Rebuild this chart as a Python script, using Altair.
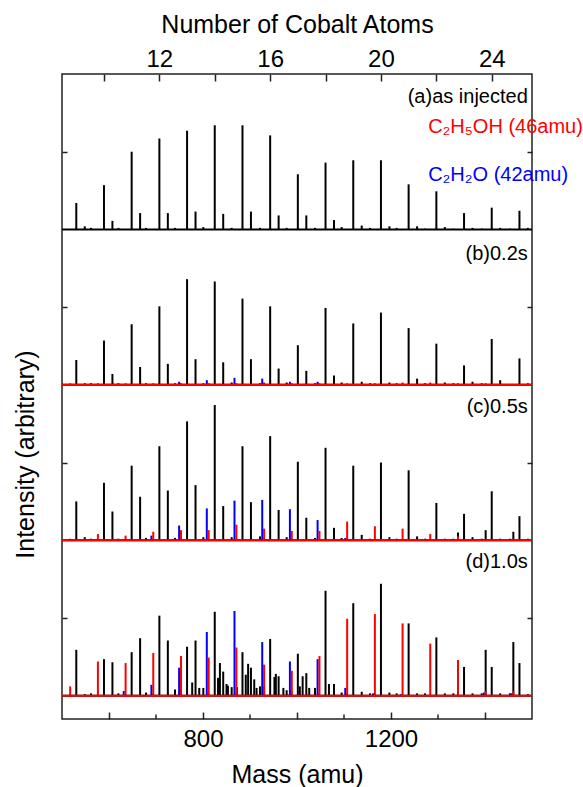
import altair as alt
import pandas as pd

# ---------------- data ----------------
cluster_n = [8, 9, 10, 11, 12, 13, 14, 15, 16, 17, 18, 19, 20, 21, 22, 23, 24, 25]
cluster_mass = [471.4, 530.4, 589.3, 648.2, 707.2, 766.1, 825.0, 884.0, 942.9,
                1001.8, 1060.7, 1119.7, 1178.6, 1237.5, 1296.5, 1355.4, 1414.3, 1473.3]
SAT_SHIFT = 18      # small satellite peak after each cluster
EXTRA_SHIFT = 46    # black peaks sitting at the +46 position
BLUE_SHIFT = 42     # C2H2O
RED_SHIFT = 46      # C2H5OH

panel_names = ["a", "b", "c", "d"]
panel_base = [6, 4, 2, 0]
panel_labels = ["(a)as injected", "(b)0.2s", "(c)0.5s", "(d)1.0s"]
panel_label_y = [7.71, 5.69, 3.72, 1.72]

main_h = {
    "a": [0, 0.34, 0.57, 1.00, 1.17, 1.27, 1.34, 1.34, 1.21, 0.71, 0.86, 0.89, 0.89, 0.58, 0.49, 0.21, 0.28, 0.24],
    "b": [0, 0.32, 0.57, 0.78, 1.01, 1.36, 1.33, 1.11, 1.01, 0.51, 0.99, 0.79, 0.93, 0.73, 0.53, 0.25, 0.59, 0.34],
    "c": [0, 0.50, 0.74, 0.96, 1.21, 1.53, 1.74, 1.21, 1.34, 1.01, 1.19, 0.96, 1.00, 0.90, 0.48, 0.34, 0.63, 0.31],
    "d": [0, 0.59, 0.47, 0.56, 1.03, 0.63, 1.08, 0.56, 0.73, 0.54, 1.35, 1.19, 1.44, 0.93, 0.75, 0.37, 0.37, 0.42],
}
sat_h = {
    "a": [0, 0.04, 0.11, 0.21, 0.21, 0.23, 0.20, 0.23, 0.18, 0.18, 0.12, 0.05, 0.04, 0.04, 0.03, 0.02, 0.02, 0.02],
    "b": [0, 0.02, 0.14, 0.23, 0.27, 0.33, 0.29, 0.33, 0.21, 0.18, 0.12, 0.04, 0.03, 0.08, 0.03, 0.04, 0.06, 0.02],
    "c": [0, 0.04, 0.37, 0.56, 0.64, 0.71, 0.44, 0.49, 0.39, 0.29, 0.16, 0.07, 0.04, 0.05, 0.02, 0.04, 0.02, 0.02],
    "d": [0, 0.02, 0.43, 0.74, 0.71, 0.71, 0.31, 0.36, 0.25, 0.29, 0.15, 0.05, 0.04, 0.03, 0.03, 0.03, 0.03, 0.02],
}
extra_h = {
    "a": [0] * 18,
    "b": [0] * 18,
    "c": [0, 0, 0, 0, 0, 0, 0, 0, 0, 0, 0, 0, 0, 0, 0.10, 0.13, 0.11, 0],
    "d": [0, 0, 0, 0, 0, 0, 0, 0, 0, 0, 0, 0, 0, 0, 0, 0.59, 0.69, 0],
}
blue_h = {
    "b": [0, 0, 0, 0.01, 0.04, 0.06, 0.09, 0.08, 0.04, 0.04, 0.01, 0, 0, 0, 0, 0, 0, 0],
    "c": [0, 0, 0.01, 0.06, 0.19, 0.41, 0.51, 0.52, 0.40, 0.26, 0.03, 0.01, 0, 0, 0, 0.01, 0.01, 0],
    "d": [0, 0, 0.06, 0.14, 0.36, 0.82, 1.09, 0.69, 0.44, 0.47, 0.10, 0.03, 0.02, 0, 0, 0.04, 0.03, 0],
}
red_h = {
    "b": [0.02, 0.02, 0.02, 0.02, 0.02, 0.02, 0.02, 0.03, 0.02, 0.02, 0.02, 0.02, 0.03, 0.03, 0.02, 0.02, 0.01, 0],
    "c": [0.02, 0.08, 0.06, 0.11, 0.13, 0.13, 0.20, 0.15, 0.12, 0.12, 0.24, 0.18, 0.15, 0.08, 0.05, 0.02, 0.02, 0],
    "d": [0.12, 0.44, 0.42, 0.55, 0.51, 0.49, 0.62, 0.40, 0.32, 0.51, 0.99, 1.05, 0.93, 0.67, 0.46, 0.06, 0.06, 0],
}
noise_mass = [561.7, 619.9, 678.7, 740.4, 800.7, 861.0, 921.3, 978.0,
              1038.3, 1095.0, 1155.3, 1212.0, 1272.3, 1332.6, 1393.0, 1453.0]
noise_h = {
    "a": [0.02, 0.02, 0.02, 0.02, 0.03, 0.02, 0.02, 0.02, 0.02, 0.03, 0.02, 0.02, 0.01, 0.01, 0.01, 0.01],
    "b": [0.02, 0.02, 0.02, 0.02, 0.02, 0.03, 0.02, 0.03, 0.02, 0.03, 0.02, 0.02, 0.02, 0.02, 0.02, 0.01],
    "c": [0.02, 0.02, 0.03, 0.03, 0.04, 0.04, 0.05, 0.04, 0.03, 0.03, 0.02, 0.02, 0.02, 0.02, 0.02, 0.02],
    "d": [0.03, 0.03, 0.04, 0.08, 0.10, 0.11, 0.12, 0.07, 0.10, 0.04, 0.03, 0.03, 0.03, 0.03, 0.03, 0.03],
}
grass_mass_d = [777, 792, 832, 836, 850, 853, 872, 891, 896, 909, 914, 930,
                952, 955, 971, 988, 1006, 1012, 1026, 1068]
grass_h_d = [0.17, 0.10, 0.23, 0.42, 0.15, 0.13, 0.11, 0.27, 0.41, 0.21, 0.10, 0.12,
             0.24, 0.28, 0.10, 0.07, 0.12, 0.25, 0.10, 0.15]

minor_ticks = [700, 900, 1100, 1300]
major_ticks = [600, 800, 1000, 1200, 1400]
cobalt_ticks = [10, 12, 14, 16, 18, 20, 22, 24]
MASS_DOMAIN = [500, 1500]
CO_MASS = 58.93
Y_DOMAIN = [-0.3, 8.0]

legend_text = ["C\u2082H\u2085OH (46amu)", "C\u2082H\u2082O (42amu)"]
legend_color = ["#ff0000", "#0000ff"]
legend_y = [7.32, 6.70]
legend_mass = 1279
label_mass = 1491

# ---------------- tables ----------------
black_rows, blue_rows, red_rows = [], [], []
for p, base in zip(panel_names, panel_base):
    for i, m in enumerate(cluster_mass):
        for shift, hh in ((0, main_h[p][i]), (SAT_SHIFT, sat_h[p][i]), (EXTRA_SHIFT, extra_h[p][i])):
            if hh > 0:
                black_rows.append({"mass": m + shift, "y0": base, "y1": base + hh})
        if p in blue_h and blue_h[p][i] > 0:
            blue_rows.append({"mass": m + BLUE_SHIFT, "y0": base, "y1": base + blue_h[p][i]})
        if p in red_h and red_h[p][i] > 0:
            red_rows.append({"mass": m + RED_SHIFT, "y0": base, "y1": base + red_h[p][i]})
    for m, hh in zip(noise_mass, noise_h[p]):
        black_rows.append({"mass": m, "y0": base, "y1": base + hh})
for m, hh in zip(grass_mass_d, grass_h_d):
    black_rows.append({"mass": m, "y0": 0, "y1": hh})

black_df = pd.DataFrame(black_rows)
blue_df = pd.DataFrame(blue_rows)
red_df = pd.DataFrame(red_rows)
base_df = pd.DataFrame({"y0": panel_base, "panel": panel_names})
label_df = pd.DataFrame({"mass": [label_mass] * 4, "y0": panel_label_y, "text": panel_labels})
legend_df = pd.DataFrame({"mass": [legend_mass] * 2, "y0": legend_y, "text": legend_text, "col": legend_color})
minor_df = pd.DataFrame({"mass": minor_ticks})
co_df = pd.DataFrame({"co": [MASS_DOMAIN[0] / CO_MASS, MASS_DOMAIN[1] / CO_MASS], "y0": [0, 0]})

FONT = "Liberation Sans"
W, H = 470, 645

xs = alt.Scale(domain=MASS_DOMAIN, nice=False, zero=False)
ys = alt.Scale(domain=Y_DOMAIN, nice=False, zero=False)

x_main = alt.X("mass:Q", scale=xs, title="Mass (amu)",
               axis=alt.Axis(values=major_ticks, tickSize=7, offset=-7, domain=False, grid=False,
                             labelExpr="(datum.value == 800 || datum.value == 1200) ? datum.label : ''",
                             labelPadding=8, titlePadding=11, format="d"))
y_main = alt.Y("y0:Q", scale=ys, title="Intensity (arbitrary)",
               axis=alt.Axis(values=[1, 3, 5, 7], tickSize=5, offset=-5, domain=False, grid=False,
                             labels=False, titleX=-42, titleY=380, titleAngle=270,
                             titleBaseline="middle", titleAlign="center"))

black = alt.Chart(black_df).mark_rule(color="#000000", strokeWidth=2, clip=True).encode(
    x=x_main, y=y_main, y2="y1:Q")
blue = alt.Chart(blue_df).mark_rule(color="#0000ff", strokeWidth=2, clip=True).encode(
    x=alt.X("mass:Q", scale=xs), y=alt.Y("y0:Q", scale=ys), y2="y1:Q")
red = alt.Chart(red_df).mark_rule(color="#ff0000", strokeWidth=2, clip=True).encode(
    x=alt.X("mass:Q", scale=xs), y=alt.Y("y0:Q", scale=ys), y2="y1:Q")
base_black = alt.Chart(base_df).mark_rule(color="#000000", strokeWidth=2).encode(
    y=alt.Y("y0:Q", scale=ys), x=alt.value(0), x2=alt.value(W))
base_red = alt.Chart(base_df).transform_filter("datum.panel != 'a'").mark_rule(
    color="#ff0000", strokeWidth=2).encode(
    y=alt.Y("y0:Q", scale=ys), x=alt.value(0), x2=alt.value(W))
minor = alt.Chart(minor_df).mark_rule(color="#222222", strokeWidth=1.5).encode(
    x=alt.X("mass:Q", scale=xs), y=alt.value(H), y2=alt.value(H - 4.5))
labels = alt.Chart(label_df).mark_text(align="right", baseline="middle", font=FONT,
                                        fontSize=20, color="#000000").encode(
    x=alt.X("mass:Q", scale=xs), y=alt.Y("y0:Q", scale=ys), text="text:N")
legend = alt.Chart(legend_df).mark_text(align="left", baseline="middle", font=FONT,
                                         fontSize=20).encode(
    x=alt.X("mass:Q", scale=xs), y=alt.Y("y0:Q", scale=ys), text="text:N",
    color=alt.Color("col:N", scale=None))

inner = alt.layer(black, blue, red, base_black, base_red, minor, labels, legend)

top = alt.Chart(co_df).mark_point(opacity=0).encode(
    x=alt.X("co:Q", scale=alt.Scale(domain=[MASS_DOMAIN[0] / CO_MASS, MASS_DOMAIN[1] / CO_MASS],
                                    nice=False, zero=False),
            title="Number of Cobalt Atoms",
            axis=alt.Axis(orient="top", values=cobalt_ticks, tickSize=7, offset=-7, domain=False,
                          grid=False, labelPadding=3, titlePadding=10,
                          labelExpr="(datum.value % 4 == 0) ? datum.label : ''")),
    y=alt.Y("y0:Q", scale=ys, title=None,
            axis=alt.Axis(orient="right", values=[1, 3, 5, 7], tickSize=5, offset=-5,
                          domain=False, grid=False, labels=False)),
)

chart = alt.layer(inner, top).resolve_scale(x="independent", y="independent").resolve_axis(
    x="independent", y="independent"
).properties(
    width=W, height=H,
    background="white",
    autosize=alt.AutoSizeParams(type="none"),
    padding={"left": 62, "top": 74, "right": 51, "bottom": 68},
).configure_view(
    stroke="#222222", strokeWidth=1.5
).configure_axis(
    labelFont=FONT, titleFont=FONT, labelFontSize=24, titleFontSize=25,
    labelColor="#000000", titleColor="#000000", titleFontWeight="normal",
    tickColor="#222222", tickWidth=1.5
)

chart.save("out.html", embed_options={"renderer": "svg", "actions": False})
